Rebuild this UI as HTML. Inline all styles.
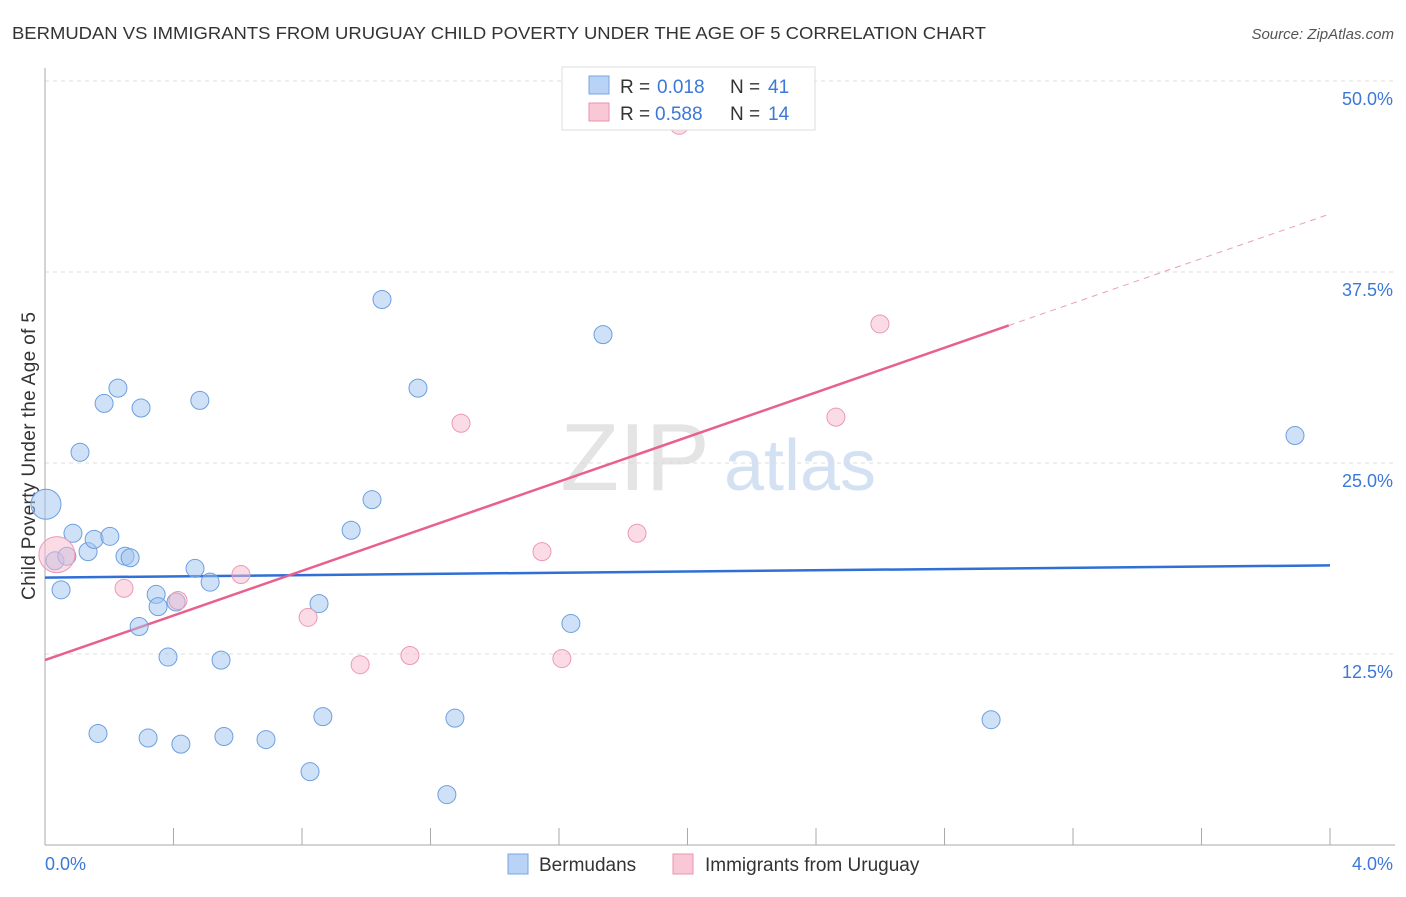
<!DOCTYPE html>
<html><head><meta charset="utf-8"><style>
body{margin:0;background:#fff;font-family:"Liberation Sans",sans-serif;}
svg text{font-family:"Liberation Sans",sans-serif;}
</style></head><body>
<svg id="chart" width="1406" height="892" xmlns="http://www.w3.org/2000/svg">
<text x="12" y="39" font-size="17.5" fill="#333" textLength="974" lengthAdjust="spacingAndGlyphs">BERMUDAN VS IMMIGRANTS FROM URUGUAY CHILD POVERTY UNDER THE AGE OF 5 CORRELATION CHART</text>
<text x="1394" y="39" font-size="15" fill="#555" font-style="italic" text-anchor="end">Source: ZipAtlas.com</text>
<text x="35" y="456" font-size="19" fill="#333" text-anchor="middle" textLength="288" transform="rotate(-90 35 456)">Child Poverty Under the Age of 5</text>
<g><text x="635" y="490" font-size="96" fill="#e4e4e4" font-family="Liberation Serif,serif" text-anchor="middle">ZIP</text><text x="800" y="490" font-size="72" fill="#d3e1f3" text-anchor="middle">atlas</text></g>
<g id="grid"></g><g id="axes"></g><g id="lines"></g><g id="pts"></g>
<g>
<rect x="562" y="67" width="253" height="63" fill="#fff" stroke="#ddd"/>
<rect x="589" y="76" width="20" height="18" fill="#b8d3f5" stroke="#7aa6e0"/>
<text x="620" y="93" font-size="19" fill="#333">R =</text><text x="657" y="93" font-size="19" fill="#3b78d8">0.018</text>
<text x="730" y="93" font-size="19" fill="#333">N =</text><text x="768" y="93" font-size="19" fill="#3b78d8">41</text>
<rect x="589" y="103" width="20" height="18" fill="#f9c8d6" stroke="#e995b0"/>
<text x="620" y="120" font-size="19" fill="#333">R =</text><text x="655" y="120" font-size="19" fill="#3b78d8">0.588</text>
<text x="730" y="120" font-size="19" fill="#333">N =</text><text x="768" y="120" font-size="19" fill="#3b78d8">14</text>
</g>
<g>
<rect x="508" y="854" width="20" height="20" fill="#b8d3f5" stroke="#7aa6e0"/>
<text x="539" y="871" font-size="19" fill="#333">Bermudans</text>
<rect x="673" y="854" width="20" height="20" fill="#f9c8d6" stroke="#e995b0"/>
<text x="705" y="871" font-size="19" fill="#333">Immigrants from Uruguay</text>
</g>
</svg>
<script>
const yTicks=[12.5,25,37.5,50];
const yTickLabels=["12.5%","25.0%","37.5%","50.0%"];
const xTickLabels=["0.0%","4.0%"];
const blueX=[0.003,0.031,0.068,0.050,0.087,0.109,0.134,0.153,0.202,0.184,0.227,0.299,0.249,0.265,0.293,0.346,0.352,0.408,0.383,0.467,0.482,0.514,0.548,0.165,0.321,0.423,0.557,0.688,0.825,0.865,0.853,0.953,1.018,1.049,1.161,1.251,1.276,1.637,1.737,2.945,3.891];
const blueY=[22.3,18.6,18.9,16.7,20.4,25.7,19.2,20.0,20.2,28.9,29.9,28.6,18.9,18.8,14.3,16.4,15.6,15.9,12.3,18.1,29.1,17.2,12.1,7.3,7.0,6.6,7.1,6.9,4.8,8.4,15.8,20.6,22.6,35.7,29.9,3.3,8.3,14.5,33.4,8.2,26.8];
const blueSize=[15,9,9,9,9,9,9,9,9,9,9,9,9,9,9,9,9,9,9,9,9,9,9,9,9,9,9,9,9,9,9,9,9,9,9,9,9,9,9,9,9];
const pinkX=[0.037,0.246,0.414,0.610,0.819,0.981,1.136,1.295,1.547,1.609,1.843,1.974,2.462,2.599];
const pinkY=[19.0,16.8,16.0,17.7,14.9,11.8,12.4,27.6,19.2,12.2,20.4,47.1,28.0,34.1];
const pinkSize=[18,9,9,9,9,9,9,9,9,9,9,9,9,9];
const blueFit=[17.5,18.3];
const pinkFit=[12.1,41.3];
const pinkSolidEnd=3.0;
const NS="http://www.w3.org/2000/svg";
const X=v=>45+v*321.25, Y=v=>845-v*15.28;
function mk(t,a,p){const e=document.createElementNS(NS,t);for(const k in a)e.setAttribute(k,a[k]);document.getElementById(p).appendChild(e);return e;}
yTicks.forEach((t,i)=>{
 const l=mk('line',{x1:45,x2:1395,y1:Y(t),y2:Y(t),stroke:'#ddd','stroke-dasharray':'4,4'},'grid');
 
 
 const tx=mk('text',{x:1393,y:Y(t)+24,'font-size':18,fill:'#3b78d8','text-anchor':'end'},'grid');
 tx.textContent=yTickLabels[i];
 
 
});
let ax=mk('line',{x1:45,x2:45,y1:68,y2:845,stroke:'#aaa'},'axes');


ax=mk('line',{x1:45,x2:1395,y1:845,y2:845,stroke:'#aaa'},'axes');


for(let i=1;i<=10;i++){const t=mk('line',{x1:X(i*0.4),x2:X(i*0.4),y1:828,y2:845,stroke:'#aaa'},'axes');
 
 }
[[0,45,'start'],[4,1393,'end']].forEach((d,i)=>{const t=mk('text',{x:d[1],y:870,'font-size':18,fill:'#3b78d8','text-anchor':d[2]},'axes');t.textContent=xTickLabels[i];
 
 });
const lerp=(f,x)=>f[0]+(f[1]-f[0])*x/4;
let ln=mk('line',{x1:X(0),y1:Y(lerp(blueFit,0)),x2:X(4),y2:Y(lerp(blueFit,4)),stroke:'#2f6fd6','stroke-width':2.5},'lines');


ln=mk('line',{x1:X(0),y1:Y(lerp(pinkFit,0)),x2:X(pinkSolidEnd),y2:Y(lerp(pinkFit,pinkSolidEnd)),stroke:'#e8608d','stroke-width':2.5},'lines');


ln=mk('line',{x1:X(pinkSolidEnd),y1:Y(lerp(pinkFit,pinkSolidEnd)),x2:X(4),y2:Y(lerp(pinkFit,4)),stroke:'#e8a0b8','stroke-width':1,'stroke-dasharray':'6,5'},'lines');


blueX.forEach((x,i)=>{const c=mk('circle',{cx:X(x),cy:Y(blueY[i]),r:blueSize[i],fill:'rgba(160,195,240,0.5)',stroke:'#6d9fe0','stroke-width':1},'pts');
 
 });
pinkX.forEach((x,i)=>{const c=mk('circle',{cx:X(x),cy:Y(pinkY[i]),r:pinkSize[i],fill:'rgba(248,185,205,0.5)',stroke:'#eb99b4','stroke-width':1},'pts');
 
 });
</script>
</body></html>
